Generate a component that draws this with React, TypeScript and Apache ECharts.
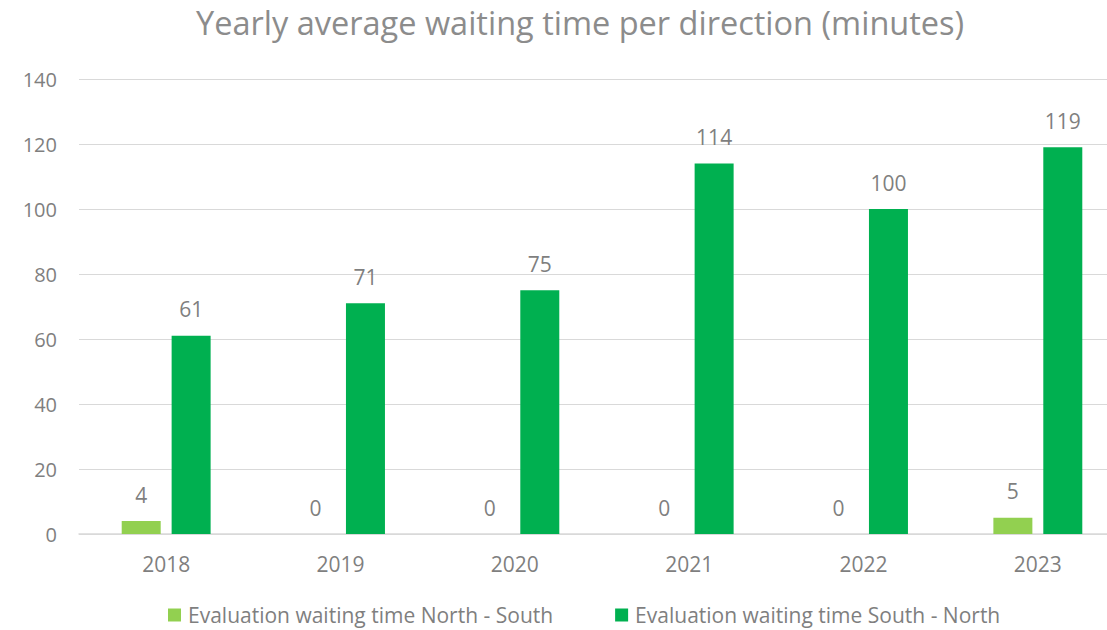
import React, { useEffect, useRef } from "react";
import * as echarts from "echarts";

const years = ["2018", "2019", "2020", "2021", "2022", "2023"];
const northSouth = [4, 0, 0, 0, 0, 5];
const southNorth = [61, 71, 75, 114, 100, 119];
const yTicks = { min: 0, max: 140, interval: 20 };

const FONT = "'Open Sans', 'Noto Sans', sans-serif";
const GRAY = "#7f7f7f";

export default function App() {
  const ref = useRef<HTMLDivElement>(null);
  useEffect(() => {
    if (!ref.current) return;
    const chart = echarts.init(ref.current, null, { renderer: "svg" });
    const label = {
      show: true,
      position: "top" as const,
      distance: 16,
      color: GRAY,
      fontSize: 21,
      fontFamily: FONT,
    };
    chart.setOption({
      animation: false,
      textStyle: { fontFamily: FONT },
      title: {
        text: "Yearly average waiting time per direction (minutes)",
        left: 191,
        top: 1,
        textStyle: { color: "#8c8c8c", fontSize: 32.5, fontWeight: "normal", fontFamily: FONT },
      },
      legend: {
        top: 599,
        left: 163,
        itemWidth: 13,
        itemHeight: 13,
        itemGap: 62,
        icon: "rect",
        textStyle: { color: GRAY, fontSize: 21, lineHeight: 22, fontFamily: FONT, padding: [0, 0, 0, 2] },
        data: ["Evaluation waiting time North - South", "Evaluation waiting time South - North"],
      },
      grid: { left: 79, width: 1046, top: 79, bottom: 96 },
      xAxis: {
        type: "category",
        data: years,
        axisLine: { show: true, lineStyle: { color: "#d9d9d9", width: 1.5 } },
        axisTick: { show: false },
        axisLabel: { color: GRAY, fontSize: 21, margin: 19, fontFamily: FONT },
      },
      yAxis: {
        type: "value",
        ...yTicks,
        axisLabel: { color: GRAY, fontSize: 20, margin: 22, fontFamily: FONT },
        axisLine: { show: false },
        axisTick: { show: false },
        splitLine: { show: true, lineStyle: { color: "#d9d9d9", width: 1 } },
      },
      series: [
        {
          name: "Evaluation waiting time North - South",
          type: "bar",
          data: northSouth,
          barWidth: 39,
          barGap: "28%",
          itemStyle: { color: "#92D050" },
          label,
        },
        {
          name: "Evaluation waiting time South - North",
          type: "bar",
          data: southNorth,
          barWidth: 39,
          barGap: "28%",
          itemStyle: { color: "#00B050" },
          label,
        },
      ],
    });
    return () => chart.dispose();
  }, []);
  return (
    <div
      style={{
        position: "fixed",
        left: 0,
        top: 0,
        width: 1107,
        height: 630,
        overflow: "hidden",
        background: "#fff",
      }}
    >
      <div ref={ref} style={{ width: 1140, height: 630 }} />
    </div>
  );
}
